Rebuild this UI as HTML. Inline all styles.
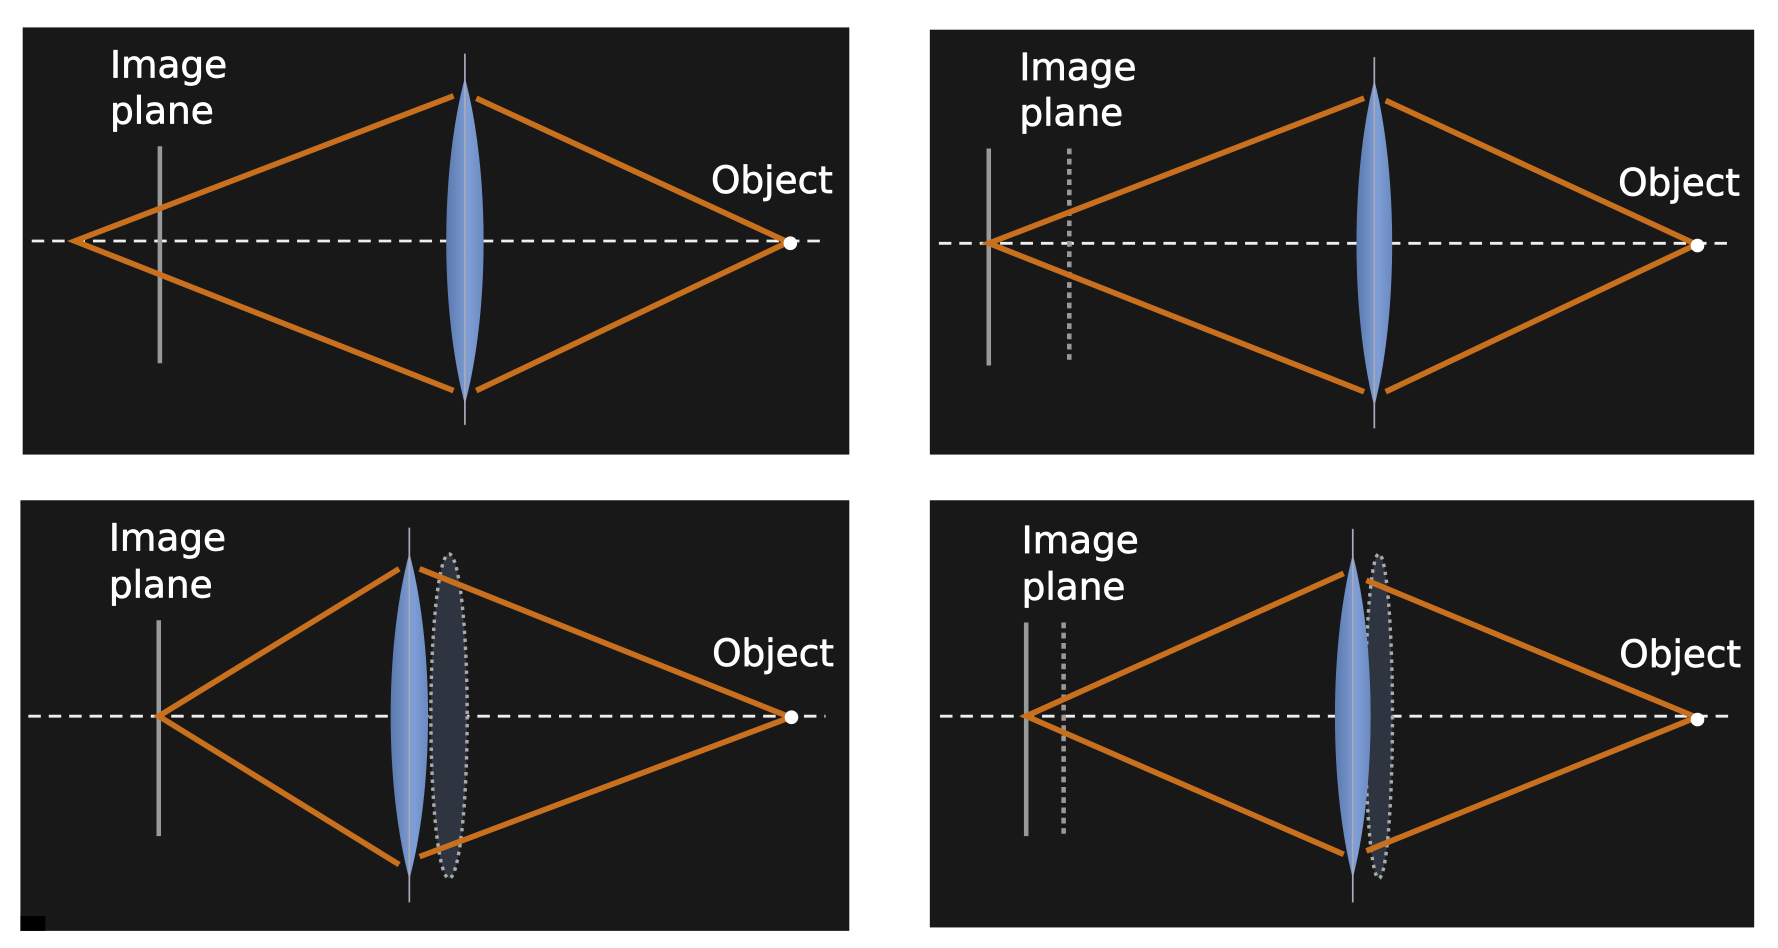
<!DOCTYPE html>
<html><head><style>html,body{margin:0;padding:0;background:#fff;}svg{display:block}</style></head>
<body>
<svg width="1778" height="948" viewBox="0 0 1568 830" preserveAspectRatio="none" xmlns="http://www.w3.org/2000/svg">
<defs>
<linearGradient id="lg" x1="0" x2="1" y1="0" y2="0">
<stop offset="0" stop-color="#5a78ad"/><stop offset="0.6" stop-color="#7f9fd6"/><stop offset="1" stop-color="#6a89c0"/>
</linearGradient>
</defs>
<g font-family="DejaVu Sans, Liberation Sans, sans-serif" font-size="33" font-weight="500" fill="#fff" stroke="#fff" stroke-width="0.6">
<text x="97" y="68">Image</text><text x="97" y="108">plane</text><text x="627" y="169">Object</text>
</g>
<g id="all">
<!-- Panel 1 -->
<rect x="20" y="24" width="729" height="374" fill="#181818"/>
<line x1="28" y1="211" x2="728" y2="211" stroke="#eee" stroke-width="2.5" stroke-dasharray="11,7"/>
<line x1="141" y1="128" x2="141" y2="318" stroke="#999" stroke-width="4"/>
<g stroke="#c8701e" stroke-width="5" fill="none">
<polyline points="400,84 66,211 400,342"/><polyline points="420,86 695,212 420,342"/></g>
<path d="M410,68 C432,150 432,272 410,354 C388,272 388,150 410,68 Z" fill="url(#lg)"/>
<line x1="410" y1="47" x2="410" y2="372" stroke="#aab" stroke-width="1.5"/>
<circle cx="697" cy="213" r="6" fill="#fff"/>
<!-- Panel 2 -->
<rect x="820" y="26" width="727" height="372" fill="#181818"/>
<line x1="828" y1="213" x2="1525" y2="213" stroke="#eee" stroke-width="2.5" stroke-dasharray="11,7"/>
<line x1="872" y1="130" x2="872" y2="320" stroke="#999" stroke-width="4"/>
<line x1="943" y1="130" x2="943" y2="316" stroke="#999" stroke-width="4" stroke-dasharray="5,4"/>
<g stroke="#c8701e" stroke-width="5" fill="none">
<polyline points="1203,86 872,213 1203,343"/><polyline points="1222,88 1496,214 1222,343"/></g>
<path d="M1212,70 C1233,152 1233,274 1212,356 C1191,274 1191,152 1212,70 Z" fill="url(#lg)"/>
<line x1="1212" y1="50" x2="1212" y2="375" stroke="#aab" stroke-width="1.5"/>
<circle cx="1497" cy="215" r="6" fill="#fff"/>
<!-- Panel 3 -->
<rect x="18" y="438" width="731" height="377" fill="#181818"/>
<line x1="25" y1="627" x2="728" y2="627" stroke="#eee" stroke-width="2.5" stroke-dasharray="11,7"/>
<line x1="140" y1="543" x2="140" y2="732" stroke="#999" stroke-width="4"/>
<ellipse cx="396" cy="627" rx="16" ry="142" fill="#2f3540" stroke="#aaa" stroke-width="3" stroke-dasharray="3,4"/>
<g stroke="#c8701e" stroke-width="5" fill="none">
<polyline points="352,498 140,627 352,757"/><polyline points="370,498 697,628 370,750"/></g>
<path d="M361,484 C383,566 383,688 361,770 C339,688 339,566 361,484 Z" fill="url(#lg)"/>
<line x1="361" y1="462" x2="361" y2="790" stroke="#aab" stroke-width="1.5"/>
<circle cx="698" cy="628" r="6" fill="#fff"/>
<rect x="18" y="802" width="22" height="13" fill="#000"/>
<!-- Panel 4 -->
<rect x="820" y="438" width="727" height="374" fill="#181818"/>
<line x1="829" y1="627" x2="1525" y2="627" stroke="#eee" stroke-width="2.5" stroke-dasharray="11,7"/>
<line x1="905" y1="545" x2="905" y2="732" stroke="#999" stroke-width="4"/>
<line x1="938" y1="545" x2="938" y2="730" stroke="#999" stroke-width="4" stroke-dasharray="5,4"/>
<ellipse cx="1216" cy="627" rx="12" ry="142" fill="#2f3540" stroke="#aaa" stroke-width="3" stroke-dasharray="3,4"/>
<g stroke="#c8701e" stroke-width="5" fill="none">
<polyline points="1185,502 905,627 1185,748"/><polyline points="1205,508 1496,628 1205,745"/></g>
<path d="M1193,485 C1214,567 1214,687 1193,769 C1172,687 1172,567 1193,485 Z" fill="url(#lg)"/>
<line x1="1193" y1="463" x2="1193" y2="790" stroke="#aab" stroke-width="1.5"/>
<circle cx="1497" cy="630" r="6" fill="#fff"/>
</g>
<g font-family="DejaVu Sans, Liberation Sans, sans-serif" font-size="33" font-weight="500" fill="#fff" stroke="#fff" stroke-width="0.6">
<text x="97" y="68">Image</text><text x="97" y="108">plane</text><text x="627" y="169">Object</text>
<text x="899" y="70">Image</text><text x="899" y="110">plane</text><text x="1427" y="171">Object</text>
<text x="96" y="482">Image</text><text x="96" y="523">plane</text><text x="628" y="583">Object</text>
<text x="901" y="484">Image</text><text x="901" y="525">plane</text><text x="1428" y="584">Object</text>
</g>
</svg>
</body></html>
